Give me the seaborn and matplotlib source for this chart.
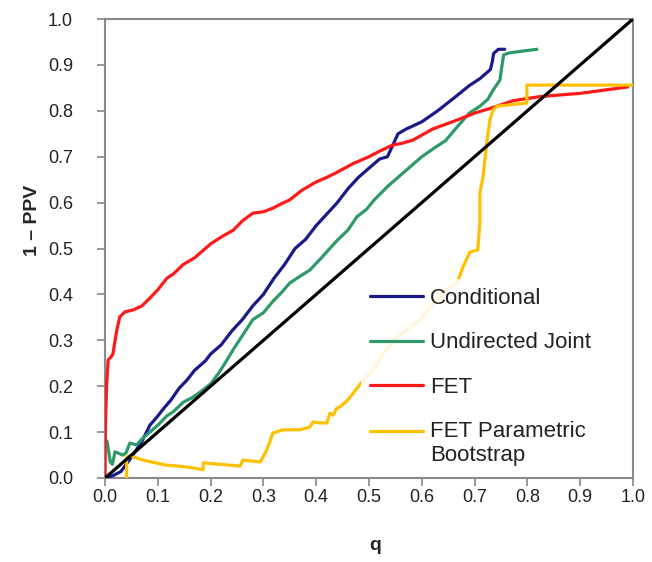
import matplotlib
matplotlib.use("Agg")
import matplotlib.pyplot as plt
import seaborn as sns
import pandas as pd

# ---- data ----
series_names = ["Conditional", "Undirected Joint", "FET", "FET Parametric\nBootstrap"]
series_colors = ["#1a1a8a", "#2e9a6a", "#ff1a1a", "#ffc000"]

cond_q = [0, 0.015, 0.03, 0.05, 0.07, 0.085, 0.1, 0.11, 0.125, 0.14, 0.155, 0.17, 0.19, 0.2,
          0.22, 0.24, 0.26, 0.28, 0.3, 0.32, 0.34, 0.36, 0.38, 0.4, 0.42, 0.44, 0.46, 0.48, 0.5,
          0.52, 0.535, 0.545, 0.555, 0.57, 0.6, 0.63, 0.66, 0.69, 0.71, 0.73, 0.734, 0.736,
          0.745, 0.757]
cond_ppv = [0, 0.005, 0.014, 0.045, 0.08, 0.115, 0.135, 0.15, 0.17, 0.195, 0.213, 0.235, 0.255,
            0.27, 0.29, 0.32, 0.345, 0.375, 0.4, 0.435, 0.465, 0.5, 0.52, 0.55, 0.575, 0.6,
            0.63, 0.655, 0.675, 0.695, 0.7, 0.725, 0.75, 0.76, 0.776, 0.8, 0.827, 0.855, 0.87,
            0.89, 0.91, 0.925, 0.934, 0.934]

joint_q = [0, 0.004, 0.01, 0.014, 0.019, 0.034, 0.04, 0.047, 0.06, 0.07, 0.085, 0.1, 0.117,
           0.13, 0.148, 0.165, 0.18, 0.2, 0.215, 0.23, 0.243, 0.26, 0.28, 0.3, 0.318, 0.335,
           0.35, 0.37, 0.388, 0.41, 0.44, 0.46, 0.477, 0.495, 0.51, 0.535, 0.56, 0.58, 0.6,
           0.625, 0.645, 0.667, 0.69, 0.71, 0.725, 0.735, 0.748, 0.752, 0.755, 0.765, 0.79,
           0.818]
joint_ppv = [0.083, 0.08, 0.035, 0.03, 0.057, 0.05, 0.055, 0.076, 0.072, 0.085, 0.1, 0.115,
             0.135, 0.145, 0.165, 0.175, 0.187, 0.205, 0.228, 0.255, 0.28, 0.31, 0.345, 0.36,
             0.385, 0.405, 0.425, 0.44, 0.453, 0.48, 0.518, 0.54, 0.569, 0.585, 0.606, 0.635,
             0.66, 0.68, 0.70, 0.72, 0.735, 0.765, 0.795, 0.81, 0.825, 0.845, 0.867, 0.90,
             0.922, 0.926, 0.93, 0.934]

fet_q = [0, 0.001, 0.003, 0.006, 0.01, 0.015, 0.022, 0.028, 0.038, 0.053, 0.07, 0.085, 0.1,
         0.117, 0.13, 0.148, 0.17, 0.185, 0.2, 0.22, 0.243, 0.26, 0.28, 0.3, 0.318, 0.335,
         0.35, 0.373, 0.4, 0.42, 0.436, 0.47, 0.5, 0.52, 0.544, 0.565, 0.583, 0.62, 0.667,
         0.7, 0.729, 0.773, 0.824, 0.9, 0.99]
fet_ppv = [0, 0.12, 0.2, 0.257, 0.262, 0.27, 0.32, 0.351, 0.362, 0.366, 0.375, 0.392, 0.41,
           0.435, 0.445, 0.465, 0.48, 0.495, 0.51, 0.525, 0.54, 0.56, 0.577, 0.58, 0.588,
           0.598, 0.606, 0.627, 0.645, 0.655, 0.664, 0.685, 0.70, 0.712, 0.725, 0.73, 0.736,
           0.76, 0.78, 0.795, 0.805, 0.822, 0.831, 0.838, 0.852]

boot_q = [0.041, 0.041, 0.047, 0.072, 0.1, 0.117, 0.155, 0.186, 0.186, 0.256, 0.261, 0.294,
          0.306, 0.318, 0.337, 0.369, 0.388, 0.394, 0.407, 0.42, 0.426, 0.432, 0.439, 0.445,
          0.46, 0.489, 0.508, 0.527, 0.553, 0.578, 0.597, 0.616, 0.629, 0.645, 0.667, 0.678,
          0.691, 0.706, 0.710, 0.710, 0.716, 0.723, 0.729, 0.735, 0.742, 0.799, 0.799, 1.0]
boot_ppv = [0, 0.046, 0.048, 0.039, 0.032, 0.028, 0.024, 0.018, 0.033, 0.026, 0.039, 0.035,
            0.06, 0.098, 0.105, 0.105, 0.111, 0.122, 0.12, 0.12, 0.141, 0.137, 0.152, 0.155,
            0.17, 0.213, 0.235, 0.272, 0.307, 0.329, 0.344, 0.372, 0.388, 0.41, 0.425, 0.46,
            0.492, 0.497, 0.556, 0.621, 0.656, 0.73, 0.78, 0.802, 0.81, 0.817, 0.856, 0.856]

diag_q = [0, 1]
diag_ppv = [0, 1]

tick_vals = [0.0, 0.1, 0.2, 0.3, 0.4, 0.5, 0.6, 0.7, 0.8, 0.9, 1.0]
tick_labels = ["0.0", "0.1", "0.2", "0.3", "0.4", "0.5", "0.6", "0.7", "0.8", "0.9", "1.0"]

# ---- build long table ----
frames = []
for name, q, p in zip(series_names,
                      [cond_q, joint_q, fet_q, boot_q],
                      [cond_ppv, joint_ppv, fet_ppv, boot_ppv]):
    d = pd.DataFrame({"q": q, "ppv": p})
    d["method"] = name
    frames.append(d)
df = pd.concat(frames, ignore_index=True)

sns.set_style("white")
plt.rcParams["font.family"] = ["Liberation Sans", "DejaVu Sans"]

fig = plt.figure(figsize=(6.52, 5.62), dpi=100)
ax = fig.add_axes([105 / 652, 1 - 478 / 562, 528 / 652, 459 / 562])

sns.lineplot(data=df, x="q", y="ppv", hue="method", hue_order=series_names,
             palette=dict(zip(series_names, series_colors)), estimator=None,
             sort=False, units="method", lw=2.3, ax=ax, zorder=3)
sns.lineplot(x=diag_q, y=diag_ppv, color="black", lw=2.3, ax=ax, zorder=4, legend=False)

ax.set_xlim(0, 1)
ax.set_ylim(0, 1)
ax.set_xticks(tick_vals)
ax.set_xticklabels(tick_labels)
ax.set_yticks(tick_vals)
ax.set_yticklabels(tick_labels)
ax.tick_params(axis="both", direction="out", length=6, width=1.2, color="#888888",
               labelsize=13, labelcolor="#222222")
ax.tick_params(axis="x", pad=2, bottom=True)
ax.tick_params(axis="y", pad=17, left=True)
for s in ax.spines.values():
    s.set_visible(True)
    s.set_color("#8a8a8a")
    s.set_linewidth(1.5)

ax.set_xlabel("q", fontsize=14, fontweight="bold")
ax.set_ylabel("1 \u2013 PPV", fontsize=14, fontweight="bold")
ax.xaxis.set_label_coords(0.511, -0.128)
ax.yaxis.set_label_coords(-0.122, 0.562)

handles, labels = ax.get_legend_handles_labels()
leg = ax.legend(handles, labels, loc="upper left", bbox_to_anchor=(0.485, 0.433),
                fontsize=16, frameon=True, framealpha=0.85, edgecolor="none",
                facecolor="white", handlelength=2.4, handletextpad=0.3,
                labelspacing=1.05, borderpad=0.4, borderaxespad=0, fancybox=False)
for h in leg.get_lines():
    h.set_linewidth(2.3)
for t in leg.get_texts():
    t.set_linespacing(1.15)
    t.set_color("#222222")
# align the two-line entry's handle with its first text line
last = leg.get_lines()[-1]
last.set_ydata([y + 9.0 for y in last.get_ydata()])

fig.savefig("out.png", dpi=100)
